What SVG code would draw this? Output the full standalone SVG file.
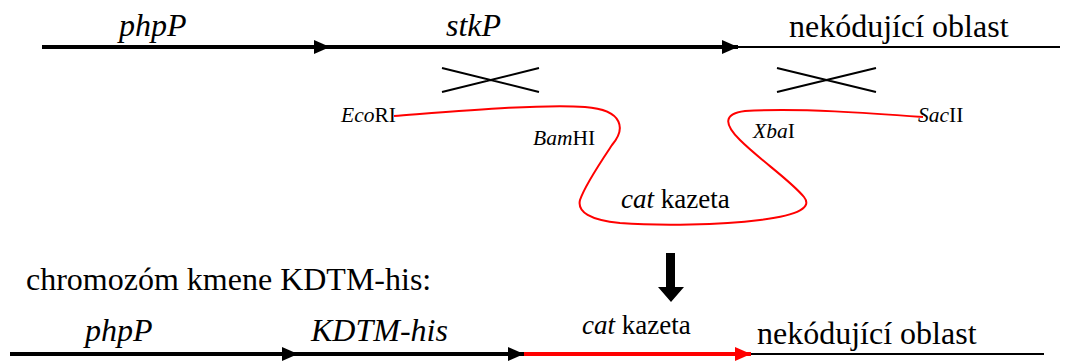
<svg xmlns="http://www.w3.org/2000/svg" width="1075" height="361" viewBox="0 0 1075 361" font-family="Liberation Serif, serif">
  <style>
    text { font-family: 'Liberation Serif', serif; fill: #000; }
    .big { font-size: 32px; }
    .mid { font-size: 27px; }
    .small { font-size: 21.5px; }
    .it { font-style: italic; }
    .gene { stroke: #000; stroke-width: 4; fill: none; }
    .thin { stroke: #000; stroke-width: 2; fill: none; }
    .ins { stroke: #ff0000; stroke-width: 4; fill: none; }
    .cross { stroke: #000; stroke-width: 2; fill: none; }
    .cassette { stroke: #ff0000; stroke-width: 2; fill: none; }
  </style>
  <defs>
    <marker id="headBlack" markerUnits="userSpaceOnUse" markerWidth="16" markerHeight="14" refX="16" refY="7" orient="auto">
      <path d="M0,0 L16,7 L0,14 Z" fill="#000"/>
    </marker>
    <marker id="headRed" markerUnits="userSpaceOnUse" markerWidth="16" markerHeight="14" refX="16" refY="7" orient="auto">
      <path d="M0,0 L16,7 L0,14 Z" fill="#ff0000"/>
    </marker>
  </defs>

  <!-- gene segments and recombination marks -->
  <g id="connectors">
    <!-- wild-type chromosome -->
    <line class="gene" x1="42" y1="47" x2="330" y2="47" marker-end="url(#headBlack)"/>
    <line class="gene" x1="330" y1="47" x2="738" y2="47" marker-end="url(#headBlack)"/>
    <line class="thin" x1="738" y1="47" x2="1060" y2="47"/>

    <!-- crossover marks -->
    <path class="cross" d="M442,68 L539,92 M442,92 L539,68"/>
    <path class="cross" d="M777,68 L876,92 M777,92 L876,68"/>

    <!-- cat cassette fragment -->
    <path class="cassette" d="M394,116 C460,111 540,104 585,107 C625,110 625,130 612,145 C600,163 585,185 580,200 C577,212 590,220 620,223 C660,226 720,225 760,220 C800,215 812,207 804,197 C790,180 760,160 740,140 C725,125 722,114 745,111 C800,108 870,113 923,117"/>

    <!-- result arrow -->
    <path d="M666,253 L675,253 L675,287 L684,287 L671,302 L658,287 L666,287 Z" fill="#000"/>

    <!-- recombinant chromosome -->
    <line class="gene" x1="10" y1="354" x2="298" y2="354" marker-end="url(#headBlack)"/>
    <line class="gene" x1="298" y1="354" x2="524" y2="354" marker-end="url(#headBlack)"/>
    <line class="ins" x1="524" y1="354" x2="751" y2="354" marker-end="url(#headRed)"/>
    <line class="thin" x1="751" y1="354" x2="1044" y2="354"/>
  </g>

  <g id="php-top"><text class="big it" x="119" y="36">phpP</text></g>
  <g id="stk-top"><text class="big it" x="446" y="36">stkP</text></g>
  <g id="noncoding-top"><text class="big" x="789" y="37">nekódující oblast</text></g>

  <g id="site-ecori"><text class="small" x="341" y="122"><tspan class="it">Eco</tspan>RI</text></g>
  <g id="site-bamhi"><text class="small" x="533" y="145"><tspan class="it">Bam</tspan>HI</text></g>
  <g id="site-xbai"><text class="small" x="753" y="138"><tspan class="it">Xba</tspan>I</text></g>
  <g id="site-sacii"><text class="small" x="918" y="122"><tspan class="it">Sac</tspan>II</text></g>
  <g id="cassette-label"><text class="mid" x="621" y="208"><tspan class="it">cat</tspan> kazeta</text></g>

  <g id="strain-title"><text class="big" x="26" y="290">chromozóm kmene KDTM-his:</text></g>

  <g id="php-bottom"><text class="big it" x="85" y="341">phpP</text></g>
  <g id="kdtm-bottom"><text class="big it" x="311" y="341">KDTM-his</text></g>
  <g id="cat-bottom"><text class="mid" x="582" y="334"><tspan class="it">cat</tspan> kazeta</text></g>
  <g id="noncoding-bottom"><text class="big" x="757" y="344">nekódující oblast</text></g>
</svg>
